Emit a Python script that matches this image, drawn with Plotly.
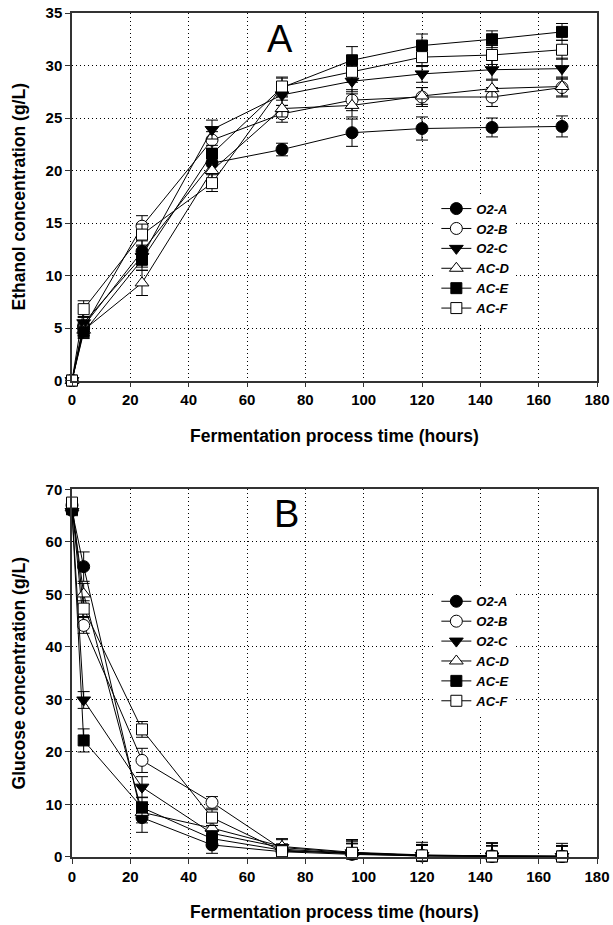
import plotly.graph_objects as go

time_h = [0, 4, 24, 48, 72, 96, 120, 144, 168]
series_names = ["O2-A", "O2-B", "O2-C", "AC-D", "AC-E", "AC-F"]

# Panel A: ethanol (g/L)
eth_o2a = [0, 5.2, 12.3, 20.7, 22.0, 23.6, 24.0, 24.1, 24.2]
eth_o2b = [0, 5.0, 14.7, 22.9, 25.4, 26.7, 27.0, 27.0, 27.9]
eth_o2c = [0, 5.5, 11.8, 23.9, 27.2, 28.5, 29.2, 29.6, 29.7]
eth_acd = [0, 4.8, 9.3, 20.0, 25.9, 26.2, 27.1, 27.8, 28.0]
eth_ace = [0, 4.6, 11.5, 21.6, 27.9, 30.5, 31.9, 32.5, 33.2]
eth_acf = [0, 6.8, 13.9, 18.8, 28.0, 29.4, 30.8, 31.0, 31.5]
eth_err_o2a = [0, 0.5, 1.0, 0.9, 0.6, 1.3, 1.1, 0.9, 1.0]
eth_err_o2b = [0, 0.5, 1.0, 0.8, 0.8, 1.0, 0.9, 0.9, 0.9]
eth_err_o2c = [0, 0.6, 1.0, 0.9, 1.0, 1.0, 0.8, 0.9, 1.0]
eth_err_acd = [0, 0.5, 1.2, 0.9, 0.8, 1.1, 0.8, 0.8, 0.9]
eth_err_ace = [0, 0.6, 1.0, 0.8, 0.9, 1.3, 1.1, 0.8, 0.8]
eth_err_acf = [0, 0.8, 1.0, 0.8, 0.9, 1.0, 0.9, 0.9, 0.9]

# Panel B: glucose (g/L)
glu_o2a = [66.0, 55.3, 7.5, 2.3, 1.0, 0.5, 0.2, 0.1, 0.1]
glu_o2b = [67.0, 44.1, 18.4, 10.4, 1.5, 0.7, 0.3, 0.2, 0.1]
glu_o2c = [65.8, 29.9, 13.3, 4.5, 1.8, 0.8, 0.3, 0.2, 0.1]
glu_acd = [66.5, 50.1, 8.5, 5.5, 2.0, 0.9, 0.4, 0.2, 0.2]
glu_ace = [66.2, 22.2, 9.4, 3.5, 1.3, 0.6, 0.2, 0.1, 0.1]
glu_acf = [67.5, 47.3, 24.3, 7.5, 1.1, 0.8, 0.3, 0.1, 0.1]
glu_err_o2a = [0.8, 2.8, 2.8, 1.6, 1.0, 2.0, 2.0, 2.0, 2.0]
glu_err_o2b = [0.8, 1.5, 2.3, 1.1, 1.0, 2.5, 2.0, 2.5, 2.0]
glu_err_o2c = [0.8, 1.6, 2.0, 1.5, 1.5, 2.5, 2.0, 2.5, 2.5]
glu_err_acd = [0.8, 2.0, 2.0, 1.5, 1.5, 2.0, 2.0, 2.0, 2.0]
glu_err_ace = [0.8, 2.2, 2.0, 1.5, 1.0, 2.0, 2.0, 2.0, 2.0]
glu_err_acf = [0.8, 1.5, 1.5, 1.5, 1.0, 2.5, 2.5, 2.5, 2.0]

x_ticks = [0, 20, 40, 60, 80, 100, 120, 140, 160, 180]

ethanol = [eth_o2a, eth_o2b, eth_o2c, eth_acd, eth_ace, eth_acf]
ethanol_err = [eth_err_o2a, eth_err_o2b, eth_err_o2c, eth_err_acd, eth_err_ace, eth_err_acf]
glucose = [glu_o2a, glu_o2b, glu_o2c, glu_acd, glu_ace, glu_acf]
glucose_err = [glu_err_o2a, glu_err_o2b, glu_err_o2c, glu_err_acd, glu_err_ace, glu_err_acf]

symbols = ["circle", "circle", "triangle-down", "triangle-up", "square", "square"]
fills = ["black", "white", "black", "white", "black", "white"]
sizes = [12, 12, 12, 12, 11, 11]

FONT = "Liberation Sans, Arial, Helvetica, sans-serif"

fig = go.Figure()

def add_panel(data, errs, xa, ya, legend):
    for name, y, e, sym, fc, sz in zip(series_names, data, errs, symbols, fills, sizes):
        fig.add_trace(go.Scatter(
            x=time_h, y=y, name=name, mode="lines+markers",
            xaxis=xa, yaxis=ya, legend=legend,
            line=dict(color="black", width=1),
            marker=dict(symbol=sym, size=sz, color=fc,
                        line=dict(color="black", width=1)),
            error_y=dict(type="data", array=e, visible=True,
                         color="black", thickness=1, width=6),
            cliponaxis=False,
        ))

add_panel(ethanol, ethanol_err, "x", "y", "legend")
add_panel(glucose, glucose_err, "x2", "y2", "legend2")

axis_common = dict(
    showline=True, linecolor="#333333", linewidth=1.5, mirror=True,
    ticks="outside", ticklen=5, tickcolor="#333333", tickwidth=1,
    showgrid=True, gridcolor="black", gridwidth=1, griddash="1px,3px",
    zeroline=False, automargin=False, ticklabeloverflow="allow",
    tickfont=dict(family=FONT, size=15, color="black", weight="bold"),
)
title_font = dict(family=FONT, size=17.5, color="black", weight="bold")

fig.update_layout(
    width=613, height=925,
    margin=dict(l=72, r=16, t=13, b=68),
    paper_bgcolor="white", plot_bgcolor="white",
    showlegend=True,
    xaxis=dict(domain=[0, 1], anchor="y", range=[0, 180], tickvals=x_ticks,
               title=dict(text="Fermentation process time (hours)", font=title_font, standoff=22),
               **axis_common),
    yaxis=dict(domain=[0.5645, 1], anchor="x", range=[0, 35], dtick=5,
               title=dict(text="Ethanol concentration (g/L)", font=title_font, standoff=15),
               **axis_common),
    xaxis2=dict(domain=[0, 1], anchor="y2", range=[0, 180], tickvals=x_ticks,
                title=dict(text="Fermentation process time (hours)", font=title_font, standoff=22),
                **axis_common),
    yaxis2=dict(domain=[0, 0.4355], anchor="x2", range=[0, 70], dtick=10,
                title=dict(text="Glucose concentration (g/L)", font=title_font, standoff=15),
                **axis_common),
    legend=dict(x=0.694, y=0.786, xanchor="left", yanchor="top",
                bgcolor="white", borderwidth=0, tracegroupgap=0,
                font=dict(family=FONT, size=13, color="black", style="italic", weight="bold")),
    legend2=dict(x=0.694, y=0.3207, xanchor="left", yanchor="top",
                 bgcolor="white", borderwidth=0, tracegroupgap=0,
                 font=dict(family=FONT, size=13, color="black", style="italic", weight="bold")),
    annotations=[
        dict(text="A", x=0.397, y=0.969, xref="paper", yref="paper", showarrow=False,
             xanchor="center", yanchor="middle",
             font=dict(family=FONT, size=38, color="black")),
        dict(text="B", x=0.408, y=0.4066, xref="paper", yref="paper", showarrow=False,
             xanchor="center", yanchor="middle",
             font=dict(family=FONT, size=38, color="black")),
    ],
)

fig.write_html("out.html", config={"displayModeBar": False},
               post_script="document.body.style.margin='0';")
